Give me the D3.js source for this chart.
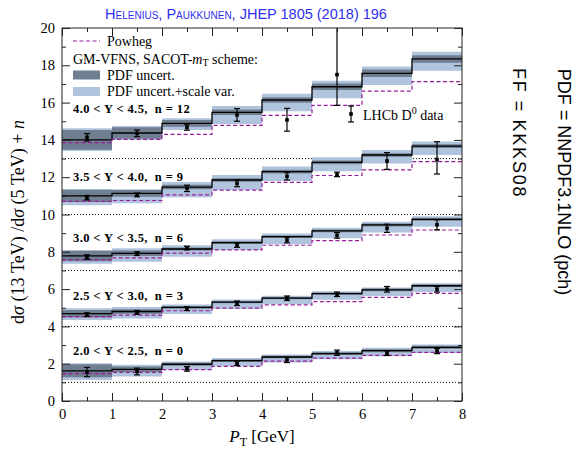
<!DOCTYPE html>
<html><head><meta charset="utf-8">
<script src="https://cdn.jsdelivr.net/npm/d3@7"></script>
<style>body{margin:0;background:#fff} svg{display:block}</style>
</head><body>
<svg id="chart" width="576" height="451"></svg>
<script>
// ---------------- data ----------------
const ptEdges = [0, 1, 2, 3, 4, 5, 6, 7, 8];
const ptCenters = [0.5, 1.5, 2.5, 3.5, 4.5, 5.5, 6.5, 7.5];
const rapidityBins = ["2.0", "2.5", "3.0", "3.5", "4.0", "4.5"];
const offsets = [0, 3, 6, 9, 12];

// GM-VFNS central ratio (without offset n), per rapidity bin
const central = [
  [1.62, 1.70, 1.97, 2.16, 2.36, 2.54, 2.70, 2.88],
  [1.68, 1.80, 2.02, 2.30, 2.52, 2.76, 2.96, 3.18],
  [1.78, 1.92, 2.15, 2.49, 2.81, 3.12, 3.44, 3.74],
  [2.00, 2.13, 2.47, 2.85, 3.30, 3.80, 4.19, 4.67],
  [2.00, 2.37, 2.89, 3.48, 4.14, 4.85, 5.57, 6.34]
];
// PDF uncertainty (symmetric)
const pdfErr = [
  [0.35, 0.15, 0.08, 0.07, 0.07, 0.07, 0.08, 0.08],
  [0.20, 0.12, 0.07, 0.06, 0.06, 0.06, 0.07, 0.07],
  [0.28, 0.15, 0.08, 0.07, 0.07, 0.07, 0.08, 0.08],
  [0.33, 0.18, 0.12, 0.10, 0.10, 0.10, 0.10, 0.10],
  [0.53, 0.31, 0.18, 0.15, 0.15, 0.17, 0.20, 0.20]
];
// PDF + scale variation envelope (up / down from central)
const totUp = [
  [0.40, 0.25, 0.15, 0.14, 0.14, 0.14, 0.15, 0.15],
  [0.29, 0.24, 0.16, 0.14, 0.13, 0.13, 0.13, 0.13],
  [0.30, 0.27, 0.20, 0.18, 0.17, 0.17, 0.17, 0.17],
  [0.37, 0.22, 0.27, 0.27, 0.27, 0.27, 0.27, 0.25],
  [0.62, 0.38, 0.27, 0.34, 0.33, 0.32, 0.36, 0.39]
];
const totDown = [
  [0.49, 0.38, 0.30, 0.30, 0.30, 0.30, 0.30, 0.30],
  [0.34, 0.38, 0.35, 0.35, 0.33, 0.33, 0.33, 0.33],
  [0.42, 0.45, 0.42, 0.40, 0.40, 0.40, 0.40, 0.40],
  [0.50, 0.53, 0.54, 0.54, 0.50, 0.48, 0.45, 0.48],
  [0.60, 0.37, 0.36, 0.63, 0.60, 0.62, 0.63, 0.63]
];
// Powheg
const powheg = [
  [1.47, 1.53, 1.68, 1.86, 2.14, 2.30, 2.45, 2.61],
  [1.52, 1.60, 1.84, 1.98, 2.15, 2.33, 2.56, 2.77],
  [1.58, 1.67, 1.93, 2.10, 2.35, 2.60, 2.90, 3.17],
  [1.70, 1.75, 2.05, 2.31, 2.72, 3.09, 3.39, 3.83],
  [1.85, 2.03, 2.30, 2.78, 3.32, 3.85, 4.62, 5.12]
];
// LHCb D0 data
const dataVal = [
  [1.55, 1.58, 1.72, 2.02, 2.20, 2.59, 2.56, 2.68],
  [1.63, 1.75, 1.95, 2.24, 2.51, 2.72, 2.99, 2.99],
  [1.72, 1.90, 2.20, 2.36, 2.63, 2.88, 3.26, 3.45],
  [1.90, 2.05, 2.40, 2.67, 3.05, 3.15, 3.87, 3.95],
  [2.14, 2.35, 2.68, 3.34, 3.07, 5.50]
];
const dataErrUp = [
  [0.25, 0.18, 0.12, 0.12, 0.14, 0.14, 0.12, 0.14],
  [0.10, 0.10, 0.10, 0.12, 0.12, 0.12, 0.15, 0.15],
  [0.12, 0.10, 0.10, 0.12, 0.15, 0.15, 0.22, 0.27],
  [0.12, 0.10, 0.17, 0.18, 0.20, 0.12, 0.45, 0.95],
  [0.20, 0.18, 0.16, 0.34, 0.62, 4.00]
];
const dataErrDown = [
  [0.25, 0.18, 0.12, 0.12, 0.14, 0.14, 0.12, 0.14],
  [0.10, 0.10, 0.10, 0.12, 0.12, 0.12, 0.15, 0.15],
  [0.12, 0.10, 0.10, 0.12, 0.15, 0.15, 0.22, 0.27],
  [0.12, 0.10, 0.17, 0.18, 0.20, 0.12, 0.45, 0.78],
  [0.20, 0.18, 0.16, 0.34, 0.60, 1.65]
];
const xTicks = [0, 1, 2, 3, 4, 5, 6, 7, 8];
const xMinorTicks = [0.5, 1.5, 2.5, 3.5, 4.5, 5.5, 6.5, 7.5];
const yTicks = [0, 2, 4, 6, 8, 10, 12, 14, 16, 18, 20];
const yMinorTicks = [1, 3, 5, 7, 9, 11, 13, 15, 17, 19];

// ---------------- layout ----------------
const plotL = 62, plotR = 462, plotT = 28, plotB = 401;
const labelLift = [2.68, 2.63, 2.74, 3.0, 3.66]; // label placement above offset
const COL_LIGHT = "#b0c4de", COL_DARK = "#6f7f91", COL_POW = "#9b1c9b";
const SERIF = "'Liberation Serif', 'DejaVu Serif', serif";
const SANS = "'Liberation Sans', Arial, sans-serif";

const svg = d3.select("#chart");
const x = d3.scaleLinear().domain([0, 8]).range([plotL, plotR]);
const y = d3.scaleLinear().domain([0, 20]).range([plotB, plotT]);

svg.append("defs").append("clipPath").attr("id", "clip")
  .append("rect").attr("x", plotL).attr("y", plotT).attr("width", plotR - plotL).attr("height", plotB - plotT);

const plot = svg.append("g").attr("clip-path", "url(#clip)");

function stepPoints(b, loFn, hiFn) {
  const pts = [];
  for (let k = 0; k < 8; k++) {
    const lo = offsets[b] + loFn(k), hi = offsets[b] + hiFn(k);
    pts.push({ x: ptEdges[k], lo, hi });
    pts.push({ x: ptEdges[k + 1], lo, hi });
  }
  return pts;
}
const area = d3.area().x(d => x(d.x)).y0(d => y(d.lo)).y1(d => y(d.hi));
const line = d3.line().x(d => x(d.x)).y(d => y(d.hi));

// dotted reference lines (ratio = 1)
offsets.forEach(n => {
  plot.append("line").attr("x1", plotL).attr("x2", plotR)
    .attr("y1", y(n + 1)).attr("y2", y(n + 1))
    .attr("stroke", "#000").attr("stroke-width", 1).attr("stroke-dasharray", "1,2");
});

offsets.forEach((n, b) => {
  plot.append("path").datum(stepPoints(b, k => central[b][k] - totDown[b][k], k => central[b][k] + totUp[b][k]))
    .attr("d", area).attr("fill", COL_LIGHT);
  plot.append("path").datum(stepPoints(b, k => central[b][k] - pdfErr[b][k], k => central[b][k] + pdfErr[b][k]))
    .attr("d", area).attr("fill", COL_DARK);
});
offsets.forEach((n, b) => {
  plot.append("path").datum(stepPoints(b, k => central[b][k], k => central[b][k]))
    .attr("d", line).attr("fill", "none").attr("stroke", "#000").attr("stroke-width", 1.3);
  plot.append("path").datum(stepPoints(b, k => powheg[b][k], k => powheg[b][k]))
    .attr("d", line).attr("fill", "none").attr("stroke", COL_POW).attr("stroke-width", 1.2)
    .attr("stroke-dasharray", "4,2.5");
});

function errorBar(g, px, py, pyHi, pyLo) {
  g.append("line").attr("x1", px).attr("x2", px).attr("y1", pyHi).attr("y2", pyLo)
    .attr("stroke", "#000").attr("stroke-width", 1.2);
  [pyHi, pyLo].forEach(yy => g.append("line").attr("x1", px - 3).attr("x2", px + 3)
    .attr("y1", yy).attr("y2", yy).attr("stroke", "#000").attr("stroke-width", 1.2));
  g.append("rect").attr("x", px - 1.8).attr("y", py - 1.8).attr("width", 3.6).attr("height", 3.6).attr("fill", "#000");
}
offsets.forEach((n, b) => {
  dataVal[b].forEach((v, k) => {
    errorBar(plot, x(ptCenters[k]), y(n + v), y(n + v + dataErrUp[b][k]), y(n + v - dataErrDown[b][k]));
  });
});

// ---------------- axes ----------------
function styleAxis(g) {
  g.select(".domain").remove();
  g.selectAll(".tick line").attr("stroke", "#222").attr("stroke-width", 1);
  g.selectAll(".tick text").attr("font-family", SERIF).attr("font-size", 14.5).attr("fill", "#000");
}
svg.append("g").attr("transform", `translate(0,${plotB})`)
  .call(d3.axisBottom(x).tickValues(xTicks).tickSize(-8).tickPadding(8).tickFormat(d3.format("d"))).call(styleAxis);
svg.append("g").attr("transform", `translate(0,${plotB})`)
  .call(d3.axisBottom(x).tickValues(xMinorTicks).tickSize(-4).tickFormat("")).call(styleAxis);
svg.append("g").attr("transform", `translate(0,${plotT})`)
  .call(d3.axisTop(x).tickValues(xTicks).tickSize(-8).tickFormat("")).call(styleAxis);
svg.append("g").attr("transform", `translate(0,${plotT})`)
  .call(d3.axisTop(x).tickValues(xMinorTicks).tickSize(-4).tickFormat("")).call(styleAxis);
svg.append("g").attr("transform", `translate(${plotL},0)`)
  .call(d3.axisLeft(y).tickValues(yTicks).tickSize(-8).tickPadding(7).tickFormat(d3.format("d"))).call(styleAxis);
svg.append("g").attr("transform", `translate(${plotL},0)`)
  .call(d3.axisLeft(y).tickValues(yMinorTicks).tickSize(-4).tickFormat("")).call(styleAxis);
svg.append("g").attr("transform", `translate(${plotR},0)`)
  .call(d3.axisRight(y).tickValues(yTicks).tickSize(-8).tickFormat("")).call(styleAxis);
svg.append("g").attr("transform", `translate(${plotR},0)`)
  .call(d3.axisRight(y).tickValues(yMinorTicks).tickSize(-4).tickFormat("")).call(styleAxis);

svg.append("rect").attr("x", plotL).attr("y", plotT).attr("width", plotR - plotL).attr("height", plotB - plotT)
  .attr("fill", "none").attr("stroke", "#222").attr("stroke-width", 1);

// ---------------- texts ----------------
svg.append("text").attr("x", 246).attr("y", 19).attr("text-anchor", "middle")
  .attr("font-family", SANS).attr("font-size", 14.5)
  .attr("font-variant", "small-caps").attr("fill", "#2f2fef")
  .text("Helenius, Paukkunen, JHEP 1805 (2018) 196");

const xl = svg.append("text").attr("x", 262).attr("y", 442).attr("text-anchor", "middle")
  .attr("font-family", SERIF).attr("font-size", 17);
xl.append("tspan").attr("font-style", "italic").text("P");
xl.append("tspan").attr("font-size", 12).attr("dy", 4).text("T");
xl.append("tspan").attr("dy", -4).text(" [GeV]");

const yl = svg.append("text").attr("transform", "translate(24,222) rotate(-90)").attr("text-anchor", "middle")
  .attr("font-family", SERIF).attr("font-size", 18);
yl.append("tspan").text("d");
yl.append("tspan").attr("font-style", "italic").text("σ");
yl.append("tspan").text(" (13 TeV) /d");
yl.append("tspan").attr("font-style", "italic").text("σ");
yl.append("tspan").text(" (5 TeV) + ");
yl.append("tspan").attr("font-style", "italic").text("n");

svg.append("text").attr("transform", "translate(558,182) rotate(90)").attr("text-anchor", "middle")
  .attr("font-family", SANS).attr("font-size", 18)
  .text("PDF = NNPDF3.1NLO (pch)");
svg.append("text").attr("transform", "translate(513,68) rotate(90)").attr("text-anchor", "start")
  .attr("font-family", SANS).attr("font-size", 18).attr("letter-spacing", 1.8)
  .text("FF = KKKS08");

const lg = svg.append("g").attr("font-family", SERIF).attr("font-size", 14);
lg.append("line").attr("x1", 73).attr("x2", 100).attr("y1", 41).attr("y2", 41)
  .attr("stroke", COL_POW).attr("stroke-width", 1.2).attr("stroke-dasharray", "4,2.5");
lg.append("text").attr("x", 107).attr("y", 41).attr("dominant-baseline", "central").text("Powheg");
const gm = lg.append("text").attr("x", 73).attr("y", 59).attr("dominant-baseline", "central");
gm.append("tspan").text("GM-VFNS, SACOT-");
gm.append("tspan").attr("font-style", "italic").text("m");
gm.append("tspan").attr("font-size", 10).attr("dy", 3).text("T");
gm.append("tspan").attr("dy", -3).text(" scheme:");
lg.append("rect").attr("x", 73).attr("y", 70.5).attr("width", 27).attr("height", 9).attr("fill", COL_DARK);
lg.append("text").attr("x", 107).attr("y", 75).attr("dominant-baseline", "central").text("PDF uncert.");
lg.append("rect").attr("x", 73).attr("y", 87).attr("width", 27).attr("height", 9).attr("fill", COL_LIGHT);
lg.append("text").attr("x", 107).attr("y", 91.5).attr("dominant-baseline", "central").text("PDF uncert.+scale var.");

errorBar(svg, 351, 114, 106, 122);
const dl = svg.append("text").attr("x", 363).attr("y", 115).attr("dominant-baseline", "central")
  .attr("font-family", SERIF).attr("font-size", 14);
dl.append("tspan").text("LHCb D");
dl.append("tspan").attr("font-size", 10).attr("dy", -5).text("0");
dl.append("tspan").attr("dy", 5).text(" data");

offsets.forEach((n, b) => {
  svg.append("text").attr("x", 73).attr("y", y(n + labelLift[b])).attr("dominant-baseline", "central")
    .attr("font-family", SERIF).attr("font-size", 12.5).attr("font-weight", "bold").attr("letter-spacing", 0.4)
    .attr("xml:space", "preserve")
    .text(`${rapidityBins[b]} < Y < ${rapidityBins[b + 1]},  n = ${n}`);
});
</script>
</body></html>
